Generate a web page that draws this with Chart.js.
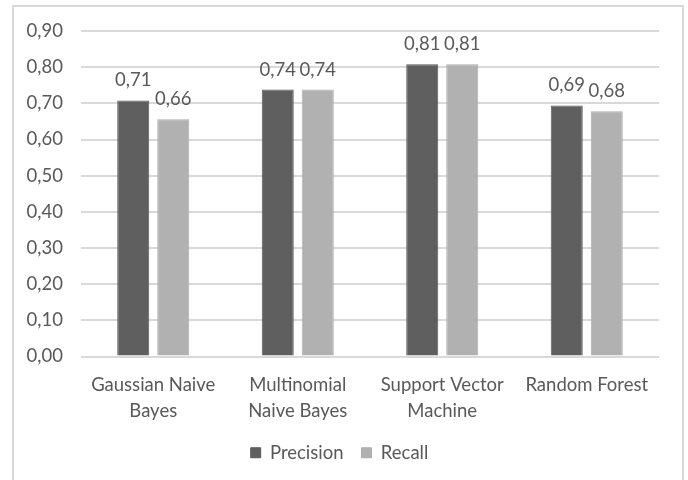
<!DOCTYPE html>
<html>
<head>
<meta charset="utf-8">
<script src="https://cdn.jsdelivr.net/npm/chart.js@4"></script>
<style>
  body { margin: 0; background: #fff; }
  #wrap { position: relative; width: 688px; height: 480px; overflow: hidden; }
  #frame { position: absolute; left: 12px; top: 5px; width: 668px; height: 520px; border: 2px solid #d9d9d9; }
  canvas { position: absolute; left: 0; top: 0; }
</style>
</head>
<body>
<div id="wrap">
  <div id="frame"></div>
  <canvas id="chart" width="688" height="480"></canvas>
</div>
<script>
// Precision / Recall per classifier
const categories = [
  ['Gaussian Naive', 'Bayes'],
  ['Multinomial', 'Naive Bayes'],
  ['Support Vector', 'Machine'],
  'Random Forest'
]
const precision = [0.708, 0.738, 0.808, 0.694]
const recall = [0.656, 0.738, 0.808, 0.678]
const yTicks = [0, 0.1, 0.2, 0.3, 0.4, 0.5, 0.6, 0.7, 0.8, 0.9]

const textColor = '#595959'
const fontFamily = "Lato, 'Open Sans', sans-serif"
const fontSize = 18.5

const fmt = v => v.toFixed(2).replace('.', ',')

// value labels on top of each bar
const barLabels = {
  id: 'barLabels',
  afterDatasetsDraw(chart) {
    const ctx = chart.ctx
    ctx.save()
    ctx.font = `${fontSize}px ${fontFamily}`
    ctx.fillStyle = textColor
    ctx.textAlign = 'center'
    ctx.textBaseline = 'middle'
    chart.data.datasets.forEach((ds, i) => {
      chart.getDatasetMeta(i).data.forEach((bar, j) => {
        ctx.fillText(fmt(ds.data[j]), bar.x, bar.y - 20)
      })
    })
    ctx.restore()
  }
}

new Chart(document.getElementById('chart'), {
  type: 'bar',
  data: {
    labels: categories,
    datasets: [
      { label: 'Precision', data: precision, backgroundColor: '#5f5f5f', borderColor: '#5a5a5a', borderWidth: 1 },
      { label: 'Recall', data: recall, backgroundColor: '#b1b1b1', borderColor: '#adadad', borderWidth: 1 }
    ]
  },
  options: {
    responsive: false,
    animation: false,
    events: [],
    categoryPercentage: 0.554,
    barPercentage: 0.8,
    layout: { padding: { left: 20, right: 29, top: 31, bottom: 8 } },
    plugins: {
      legend: {
        position: 'bottom',
        labels: {
          color: textColor,
          font: { family: fontFamily, size: fontSize },
          boxWidth: 10,
          boxHeight: 10,
          padding: 18
        }
      },
      tooltip: { enabled: false }
    },
    scales: {
      x: {
        grid: { display: false },
        border: { display: false },
        ticks: {
          color: textColor,
          font: { family: fontFamily, size: fontSize, lineHeight: 1.4 },
          maxRotation: 0,
          autoSkip: false,
          padding: 8
        },
        afterFit: s => { s.height = 69 }
      },
      y: {
        min: 0,
        max: 0.9,
        afterBuildTicks: s => { s.ticks = yTicks.map(v => ({ value: v })) },
        grid: { color: '#d9d9d9', lineWidth: 2, drawTicks: false },
        border: { display: false },
        ticks: {
          color: textColor,
          font: { family: fontFamily, size: fontSize },
          padding: 18,
          callback: v => fmt(v)
        },
        afterFit: s => { s.width = 61 }
      }
    }
  },
  plugins: [barLabels]
})
</script>
</body>
</html>
